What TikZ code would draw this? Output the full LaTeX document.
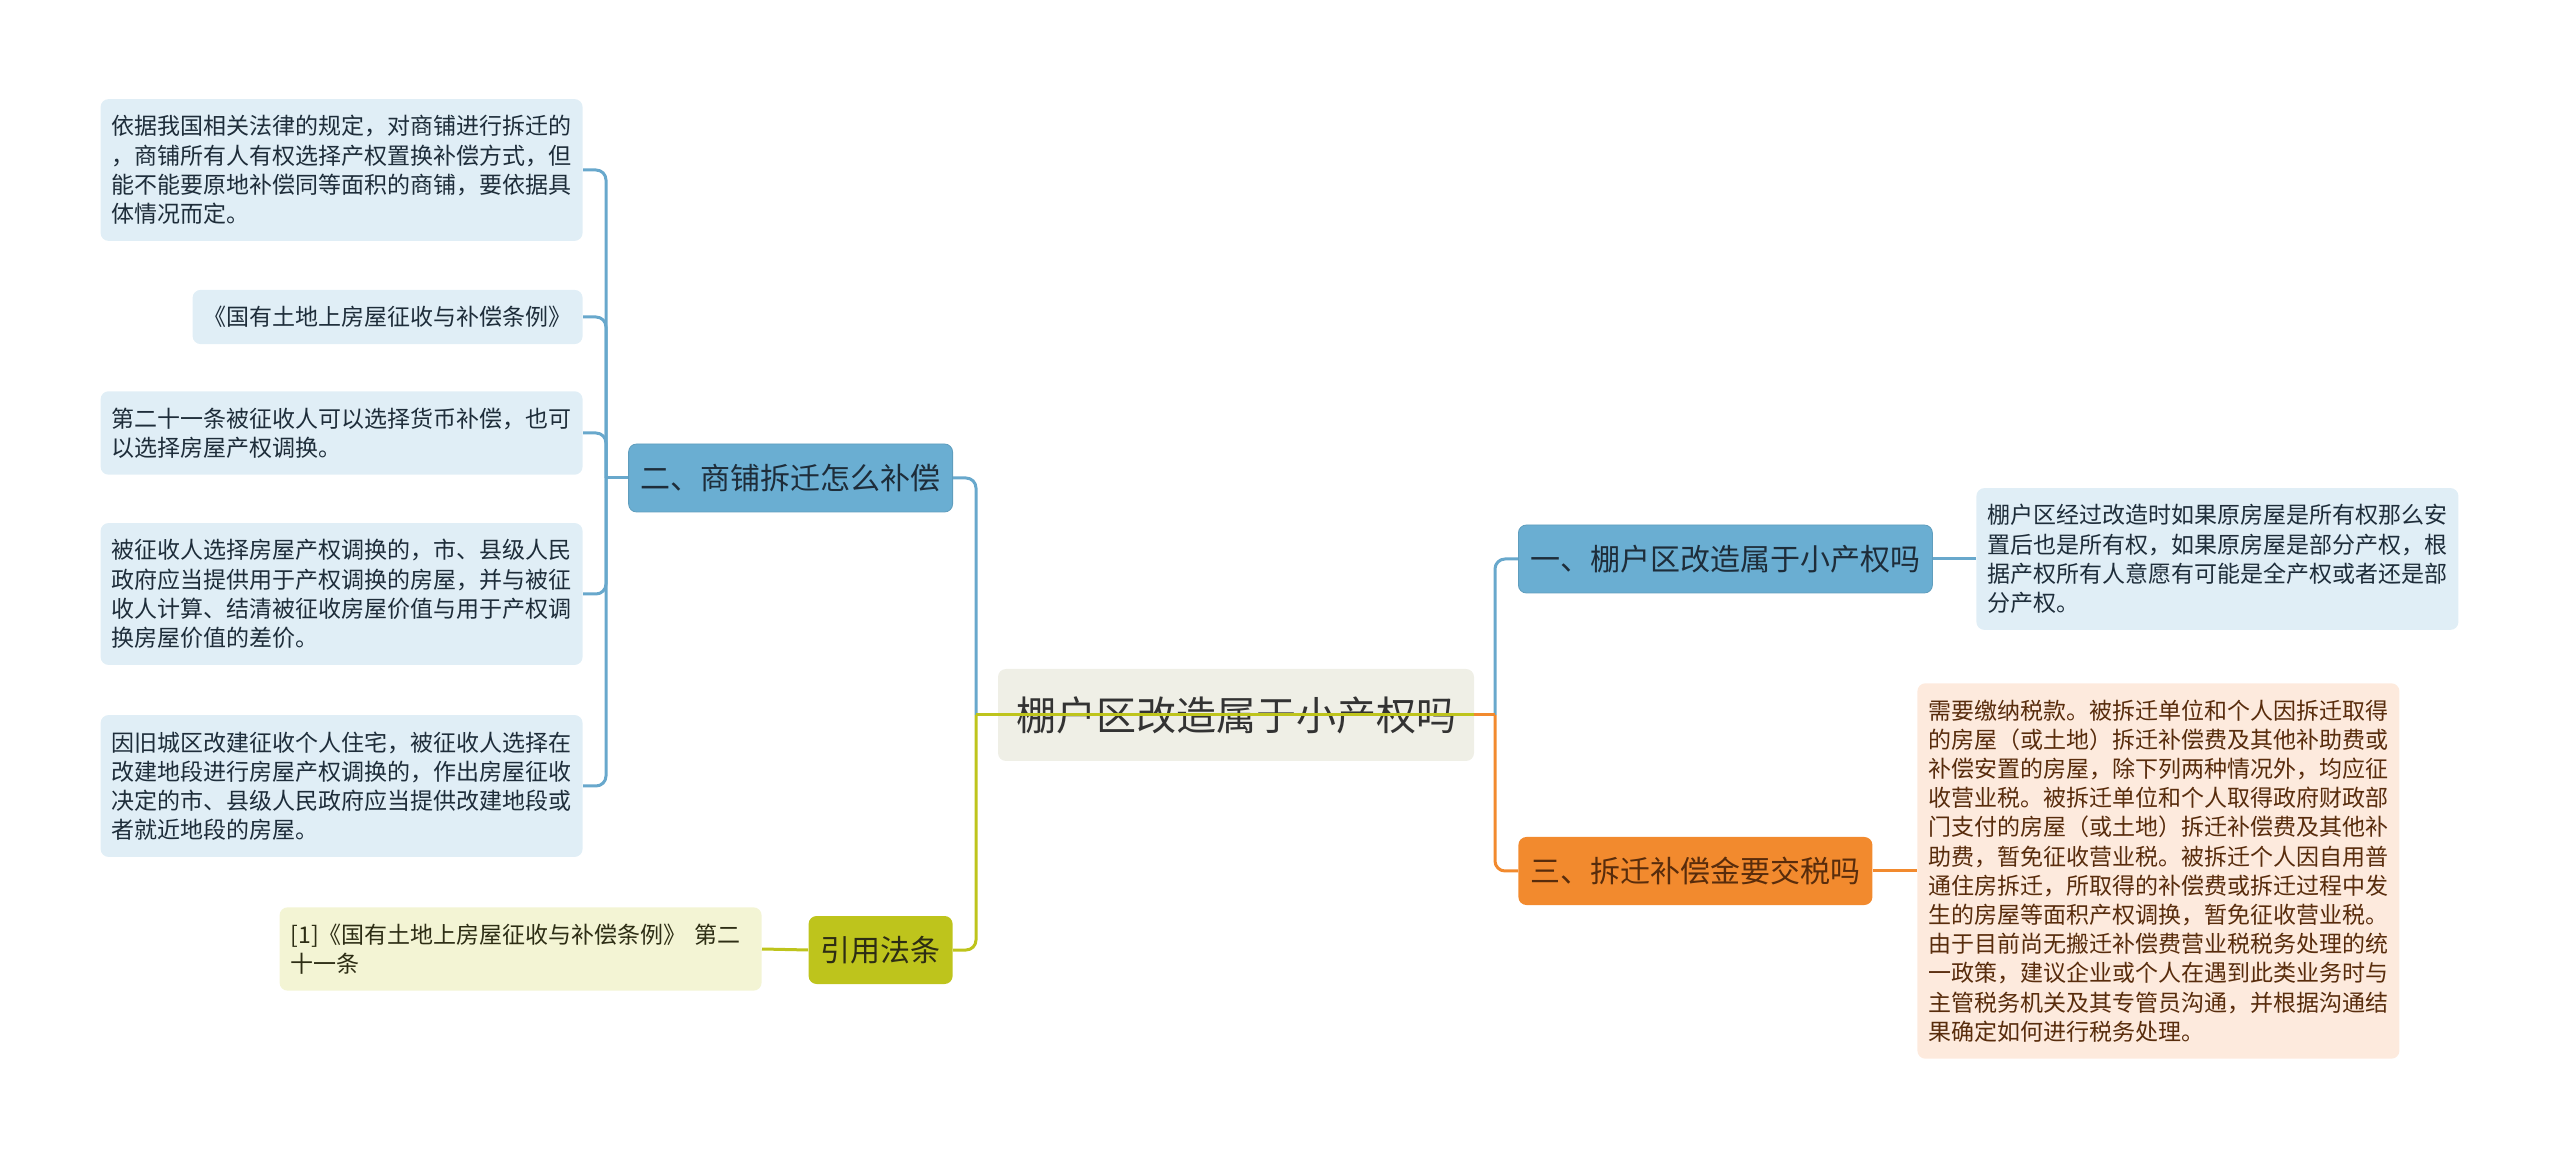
\documentclass[tikz,border=0pt]{standalone}
\usepackage{fontspec}
\setmainfont{Noto Sans CJK SC}
\usetikzlibrary{positioning}
\definecolor{rootfill}{RGB}{239,239,230}
\definecolor{rootink}{RGB}{51,51,51}
\definecolor{bluebranch}{RGB}{106,174,210}
\definecolor{bluelink}{RGB}{104,168,204}
\definecolor{blueleaf}{RGB}{224,238,246}
\definecolor{blueink}{RGB}{30,45,58}
\definecolor{orangebranch}{RGB}{242,138,46}
\definecolor{orangeleaf}{RGB}{253,234,221}
\definecolor{orangeink}{RGB}{88,44,12}
\definecolor{limebranch}{RGB}{190,196,28}
\definecolor{limeleaf}{RGB}{243,244,212}
\definecolor{limeink}{RGB}{45,45,20}

\tikzset{
  rootbox/.style={fill=rootfill, text=rootink, rounded corners=4pt,
    font=\fontsize{20pt}{24pt}\selectfont, inner xsep=9pt, minimum height=46pt},
  branchbox/.style={rounded corners=4pt, font=\fontsize{15pt}{18pt}\selectfont,
    inner xsep=6pt, minimum height=34pt},
  leafbox/.style={rounded corners=4pt, align=left, inner xsep=5.5pt, inner ysep=8.2pt,
    font=\fontsize{11.5pt}{14.6pt}\selectfont},
  wideleaf/.style={leafbox, text width=230pt},
  link/.style={line width=1.5pt, rounded corners=5pt},
}

\begin{document}
\begin{tikzpicture}[x=0.5pt, y=-0.5pt]
  \useasboundingbox (0,0) rectangle (2560,1159);
  % Root
  \node[rootbox] (root) at (1236,715) {棚户区改造属于小产权吗};
  \coordinate (ljoin) at (976,715);
  \coordinate (rjoin) at (1495,715);
  % Branches
  \node[branchbox, fill=bluebranch, draw=bluebranch!90!black, text=blueink, anchor=east] (shop) at (953,478) {二、商铺拆迁怎么补偿};
  \node[branchbox, fill=limebranch, text=limeink, anchor=east] (cite) at (953,950) {引用法条};
  \node[branchbox, fill=bluebranch, draw=bluebranch!90!black, text=blueink, anchor=west] (shed) at (1518,559) {一、棚户区改造属于小产权吗};
  \node[branchbox, fill=orangebranch, text=orangeink, anchor=west] (tax) at (1518,871) {三、拆迁补偿金要交税吗};
  % Left leaves
  \node[wideleaf, fill=blueleaf, text=blueink, anchor=east] (law) at (583,170)
    {依据我国相关法律的规定，对商铺进行拆迁的\\，商铺所有人有权选择产权置换补偿方式，但\\能不能要原地补偿同等面积的商铺，要依据具\\体情况而定。};
  \node[leafbox, fill=blueleaf, text=blueink, anchor=east] (regs) at (583,317)
    {《国有土地上房屋征收与补偿条例》};
  \node[wideleaf, fill=blueleaf, text=blueink, anchor=east] (art21) at (583,433)
    {第二十一条被征收人可以选择货币补偿，也可\\以选择房屋产权调换。};
  \node[wideleaf, fill=blueleaf, text=blueink, anchor=east] (swap) at (583,594)
    {被征收人选择房屋产权调换的，市、县级人民\\政府应当提供用于产权调换的房屋，并与被征\\收人计算、结清被征收房屋价值与用于产权调\\换房屋价值的差价。};
  \node[wideleaf, fill=blueleaf, text=blueink, anchor=east] (oldtown) at (583,786)
    {因旧城区改建征收个人住宅，被征收人选择在\\改建地段进行房屋产权调换的，作出房屋征收\\决定的市、县级人民政府应当提供改建地段或\\者就近地段的房屋。};
  \node[wideleaf, fill=limeleaf, text=limeink, anchor=east] (ref) at (762,949)
    {[1]《国有土地上房屋征收与补偿条例》 第二\\十一条};
  % Right leaves
  \node[wideleaf, fill=blueleaf, text=blueink, anchor=west] (owner) at (1976,559)
    {棚户区经过改造时如果原房屋是所有权那么安\\置后也是所有权，如果原房屋是部分产权，根\\据产权所有人意愿有可能是全产权或者还是部\\分产权。};
  \node[wideleaf, fill=orangeleaf, text=orangeink, anchor=west] (taxnote) at (1917,871)
    {需要缴纳税款。被拆迁单位和个人因拆迁取得\\的房屋（或土地）拆迁补偿费及其他补助费或\\补偿安置的房屋，除下列两种情况外，均应征\\收营业税。被拆迁单位和个人取得政府财政部\\门支付的房屋（或土地）拆迁补偿费及其他补\\助费，暂免征收营业税。被拆迁个人因自用普\\通住房拆迁，所取得的补偿费或拆迁过程中发\\生的房屋等面积产权调换，暂免征收营业税。\\由于目前尚无搬迁补偿费营业税税务处理的统\\一政策，建议企业或个人在遇到此类业务时与\\主管税务机关及其专管员沟通，并根据沟通结\\果确定如何进行税务处理。};
  % Root links
  \draw[link, bluelink] (shop.east) -| (ljoin);
  \draw[link, limebranch] (cite.east) -| (ljoin);
  \draw[link, limebranch] (root.east) -- (ljoin);
  \draw[link, bluelink] (shed.west) -| (rjoin);
  \draw[link, orangebranch] (tax.west) -| (rjoin);
  \draw[link, orangebranch] (root.east) -- (rjoin);
  % Leaf links
  \coordinate (shopjoin) at (606,478);
  \draw[link, bluelink] (shop.west) -- (shopjoin);
  \foreach \leaf in {law,regs,art21,swap,oldtown}
    \draw[link, bluelink] (\leaf.east) -| (shopjoin);
  \draw[link, limebranch] (cite.west) -- (ref.east);
  \draw[link, bluelink] (shed.east) -- (owner.west);
  \draw[link, orangebranch] (tax.east) -- (taxnote.west);
\end{tikzpicture}
\end{document}
